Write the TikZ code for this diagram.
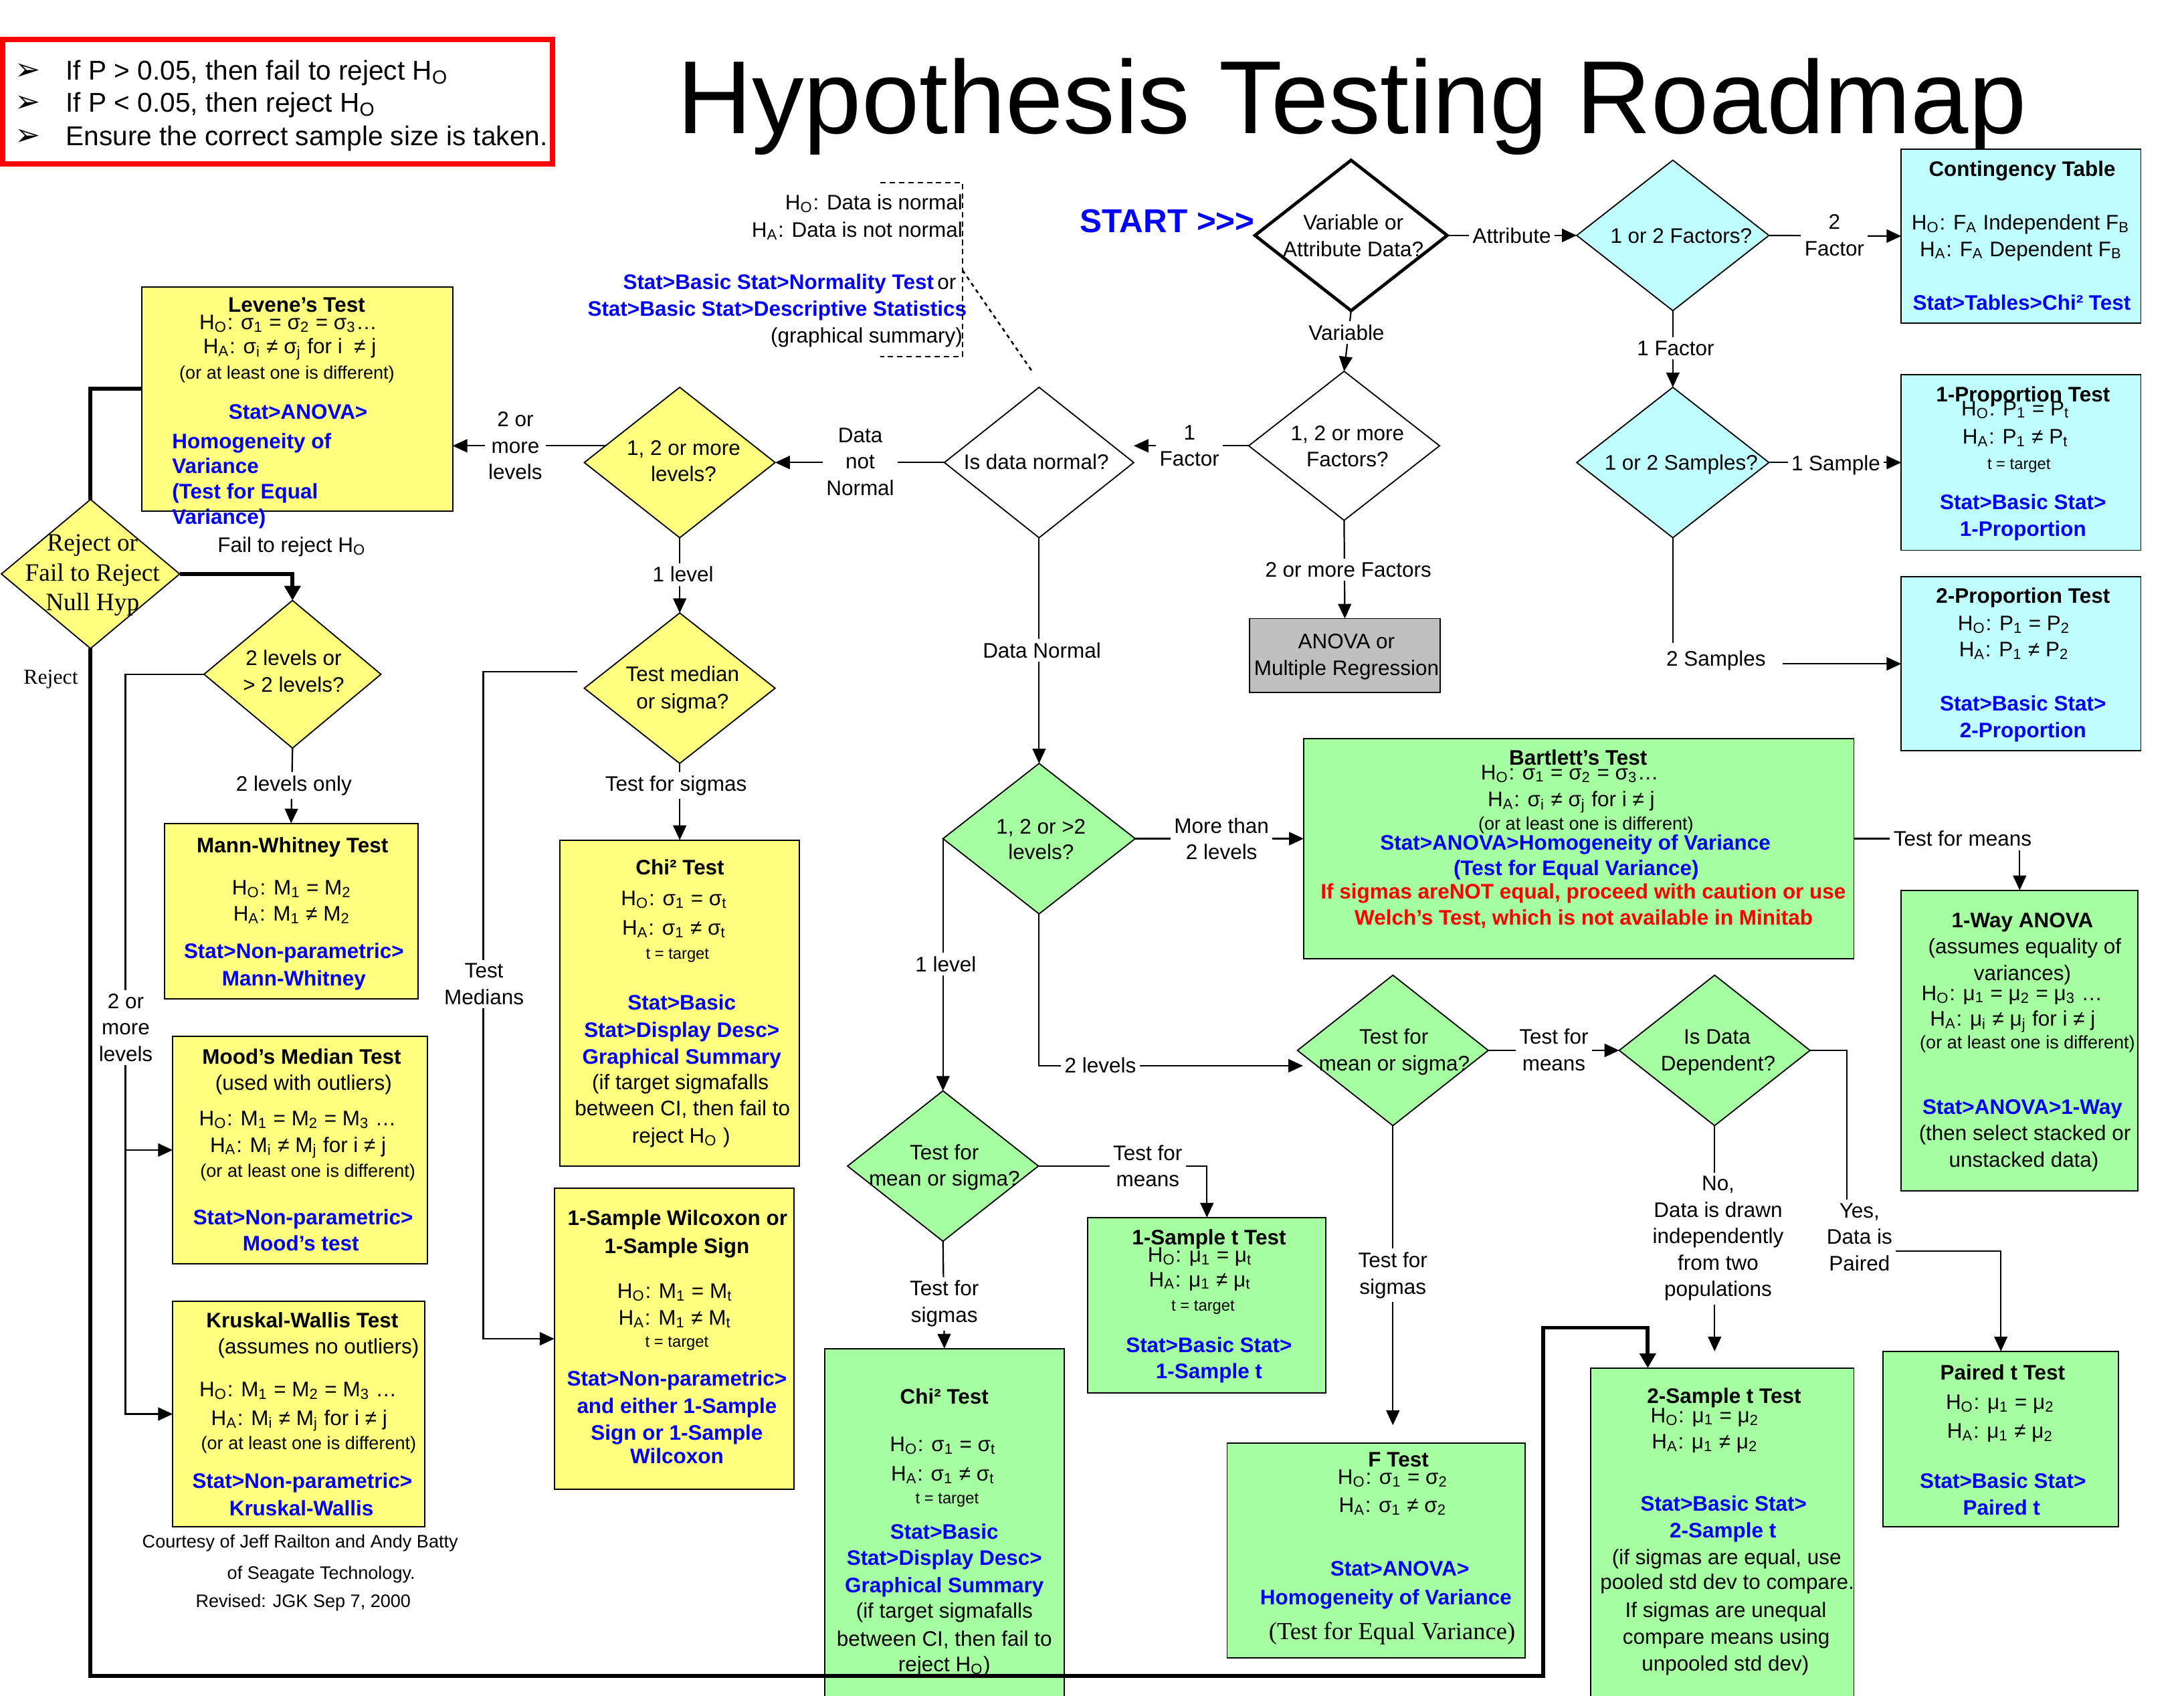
\documentclass[tikz,border=0pt]{standalone}
\usepackage{fontspec}
\setmainfont{Liberation Sans}
\newfontfamily\tnr{Liberation Serif}
\newfontfamily\djv{DejaVu Sans}
\usetikzlibrary{arrows.meta,shapes.geometric,calc}
\definecolor{cyellow}{HTML}{FFFF80}
\definecolor{ccyan}{HTML}{C0FFFF}
\definecolor{cgreen}{HTML}{A6FFA0}
\definecolor{cgray}{HTML}{C0C0C0}
\definecolor{sblue}{HTML}{0000FF}
\definecolor{sred}{HTML}{FF0000}
\newcommand\lsub[1]{\textsubscript{#1}}
\newcommand\blu{\color{sblue}\bfseries}
\newcommand\rdb{\color{sred}\bfseries}
\newcommand\smf{\fontsize{7.4}{9}\selectfont}
\newcommand\tif{\fontsize{6.5}{8}\selectfont}
\tikzset{
  tline/.style={anchor=base,inner sep=0pt,outer sep=0pt,font=\fontsize{8.6}{10.8}\selectfont},
  lbl/.style={fill=white,inner sep=1.5pt,align=center,font=\fontsize{8.6}{10.8}\selectfont},
  dia/.style={diamond,draw,line width=0.5pt,inner sep=0pt,outer sep=0pt},
  box/.style={rectangle,draw,line width=0.5pt,inner sep=0pt,outer sep=0pt},
  ln/.style={line width=0.6pt},
  arr/.style={ln,-{Triangle[length=6pt,width=5.4pt]}},
  thk/.style={line width=1.6pt},
  thkarr/.style={thk,-{Triangle[length=6pt,width=6.5pt]}},
}
\newcommand\txl[4][]{\node[tline,#1] (#2) at (#3) {#4};}
\newcommand\dnode[6][]{\node[dia,#1,minimum width={#5*0.02cm},minimum height={#6*0.02cm}] (#2) at (#3,#4) {};}
\newcommand\bnode[6][]{\node[box,#1,minimum width={(#5-#3)*0.02cm},minimum height={(#6-#4)*0.02cm}] (#2) at ({(#3+#5)/2},{(#4+#6)/2}) {};}
\begin{document}
\begin{tikzpicture}[x=0.02cm,y=-0.02cm]
\useasboundingbox (0,0) rectangle (1568,1217);
\fill[white] (0,0) rectangle (1568,1217);

% ---------- notes box and title ----------
\bnode[draw=sred,line width=2.2pt]{notes}{2}{28.3}{396.7}{117.8}
\txl[font=\djv\fontsize{12.5}{14}\selectfont]{bu1}{20,57.2}{➢}
\txl[font=\djv\fontsize{12.5}{14}\selectfont]{bu2}{20,80.4}{➢}
\txl[font=\djv\fontsize{12.5}{14}\selectfont]{bu3}{20,104.5}{➢}
\txl[anchor=base west,font=\fontsize{11.1}{13}\selectfont]{nt1}{47.4,57.2}{If P > 0.05, then fail to reject H\lsub{O}}
\txl[anchor=base west,font=\fontsize{11.1}{13}\selectfont]{nt2}{47.4,80.4}{If P < 0.05, then reject H\lsub{O}}
\txl[anchor=base west,font=\fontsize{11.1}{13}\selectfont]{nt3}{47.4,104.5}{Ensure the correct sample size is taken.}
\node[anchor=base,inner sep=0pt,font=\fontsize{42.4}{50}\selectfont] (title) at (970.6,95.6) {Hypothesis Testing Roadmap};
\node[anchor=base,inner sep=0pt,text=sblue,font=\bfseries\fontsize{13.5}{16}\selectfont] (start) at (838,167) {START >{}>{}>};

% ---------- diamonds ----------
\dnode[fill=white,line width=1.3pt]{var}{970}{169}{138}{108}
\dnode[fill=ccyan]{f12}{1201}{169}{138}{108}
\dnode[fill=ccyan]{s12}{1201}{332}{138}{108}
\dnode[fill=white]{fac}{965}{320}{137}{107}
\dnode[fill=white]{isn}{746}{332}{136}{108}
\dnode[fill=cyellow]{lvl}{488}{332}{137}{108}
\dnode[fill=cyellow]{tms}{488}{494}{137}{108}
\dnode[fill=cyellow]{rej}{65}{412}{128}{107}
\dnode[fill=cyellow]{lv2}{210}{484}{127}{106}
\dnode[fill=cgreen]{l3}{746}{602}{138}{108}
\dnode[fill=cgreen]{tmsl}{677}{837}{137}{108}
\dnode[fill=cgreen]{tmsr}{1000}{754}{137}{108}
\dnode[fill=cgreen]{dep}{1231}{754}{137}{108}

% ---------- boxes ----------
\bnode[fill=cyellow]{lev}{102}{206}{325}{367}
\bnode[fill=cyellow]{mw}{118}{591}{300}{717}
\bnode[fill=cyellow]{mood}{124}{744}{307}{907}
\bnode[fill=cyellow]{krus}{124}{934}{305}{1096}
\bnode[fill=cyellow]{chiy}{402}{603}{574}{837}
\bnode[fill=cyellow]{wil}{398}{853}{570}{1069}
\bnode[fill=cgray]{anova}{897}{444}{1034}{497}
\bnode[fill=ccyan]{cont}{1365}{107}{1537}{232}
\bnode[fill=ccyan]{p1}{1365}{269}{1537}{395}
\bnode[fill=ccyan]{p2}{1365}{414}{1537}{539}
\bnode[fill=cgreen]{bart}{936}{530}{1331}{688}
\bnode[fill=cgreen]{aov1}{1365}{639}{1535}{855}
\bnode[fill=cgreen]{t1}{781}{874}{952}{1000}
\bnode[fill=cgreen]{chig}{592}{968}{764}{1225}
\bnode[fill=cgreen]{ft}{881}{1036}{1095}{1190}
\bnode[fill=cgreen]{t2}{1142}{982}{1331}{1225}
\bnode[fill=cgreen]{pt}{1352}{970}{1521}{1096}

% ---------- diamond texts ----------
\txl{var1}{971.6,165}{Variable or}
\txl{var2}{971.6,184}{Attribute Data?}
\txl{f121}{1207,174.6}{1 or 2 Factors?}
\txl{s121}{1207,337.6}{1 or 2 Samples?}
\txl{fac1}{967.4,316}{1, 2 or more}
\txl{fac2}{967.4,335}{Factors?}
\txl{isn1}{744,336.9}{Is data normal?}
\txl{lvl1}{490.8,327}{1, 2 or more}
\txl{lvl2}{490.8,345.5}{levels?}
\txl{tms1}{490,489.3}{Test median}
\txl{tms2}{490,508.8}{or sigma?}
\txl[font=\tnr\fontsize{10.2}{12}\selectfont]{rej1}{66.4,395.7}{Reject or}
\txl[font=\tnr\fontsize{10.2}{12}\selectfont]{rej2}{66.4,417.2}{Fail to Reject}
\txl[font=\tnr\fontsize{10.2}{12}\selectfont]{rej3}{66.4,438}{Null Hyp}
\txl{lv21}{210.8,477.7}{2 levels or}
\txl{lv22}{210.8,496.6}{> 2 levels?}
\txl{l31}{747.4,598.5}{1, 2 or >2}
\txl{l32}{747.4,617}{levels?}
\txl{tmsl1}{678,832.3}{Test for}
\txl{tmsl2}{678,851}{mean or sigma?}
\txl{tmsr1}{1000.7,749.5}{Test for}
\txl{tmsr2}{1001,768.7}{mean or sigma?}
\txl{dep1}{1232.8,749.5}{Is Data}
\txl{dep2}{1233.5,768.7}{Dependent?}

% ---------- normality text ----------
\txl[anchor=base east]{nor1}{691,150.7}{H\lsub{O}: Data is normal}
\txl[anchor=base east]{nor2}{691,170.3}{H\lsub{A}: Data is not normal}
\txl[anchor=base east]{nor3}{686.4,207.8}{{\blu Stat>Basic Stat>Normality Test}\,or}
\txl[anchor=base east]{nor4}{694,227}{\blu Stat>Basic Stat>Descriptive Statistics}
\txl[anchor=base east]{nor5}{691,246.3}{(graphical summary)}
\coordinate (brk) at (691,194);
\draw[line width=0.6pt,dash pattern=on 2.2pt off 1.6pt] (632,131) -- (691,131) -- (691,256) -- (632,256);
\draw[line width=0.7pt,dash pattern=on 1.6pt off 1.6pt] (brk) -- ($(isn.north)+(-4,-10)$);

% ---------- Levene ----------
\txl{lev1}{213,224}{\bfseries Levene's Test}
\txl{lev2}{207,236.5}{H\lsub{O}: σ\lsub{1} = σ\lsub{2} = σ\lsub{3}…}
\txl{lev3}{208,254}{H\lsub{A}: σ\lsub{i} ≠ σ\lsub{j} for i \ ≠ j}
\txl{lev4}{206,272}{\smf (or at least one is different)}
\txl{lev5}{214,301}{\blu Stat>ANOVA>}
\txl[anchor=base west]{lev6}{123.6,322}{\blu Homogeneity of}
\txl[anchor=base west]{lev7}{123.6,340}{\blu Variance}
\txl[anchor=base west]{lev8}{123.6,358}{\blu (Test for Equal}
\txl[anchor=base west]{lev9}{123.6,376.5}{\blu Variance)}

% ---------- Mann-Whitney ----------
\txl{mw1}{210,612}{\bfseries Mann-Whitney Test}
\txl{mw2}{209.5,642.4}{H\lsub{O}: M\lsub{1} = M\lsub{2}}
\txl{mw3}{209.5,661}{H\lsub{A}: M\lsub{1} ≠ M\lsub{2}}
\txl{mw4}{211,688}{\blu Stat>Non-parametric>}
\txl{mw5}{211,707.7}{\blu Mann-Whitney}

% ---------- Mood ----------
\txl{mo1}{216.6,763.6}{\bfseries Mood's Median Test}
\txl{mo2}{218,782.5}{(used with outliers)}
\txl{mo3}{213.7,808}{H\lsub{O}: M\lsub{1} = M\lsub{2} = M\lsub{3} …}
\txl{mo4}{214,827}{H\lsub{A}: M\lsub{i} ≠ M\lsub{j} for i ≠ j}
\txl{mo5}{221,845}{\smf (or at least one is different)}
\txl{mo6}{217.6,879}{\blu Stat>Non-parametric>}
\txl{mo7}{216,898}{\blu Mood's test}

% ---------- Kruskal ----------
\txl{kr1}{217,953}{\bfseries Kruskal-Wallis Test}
\txl{kr2}{228.6,971.8}{(assumes no outliers)}
\txl{kr3}{214,1002.7}{H\lsub{O}: M\lsub{1} = M\lsub{2} = M\lsub{3} …}
\txl{kr4}{214.8,1023}{H\lsub{A}: M\lsub{i} ≠ M\lsub{j} for i ≠ j}
\txl{kr5}{221.6,1040.4}{\smf (or at least one is different)}
\txl{kr6}{217,1068.5}{\blu Stat>Non-parametric>}
\txl{kr7}{216.4,1087.8}{\blu Kruskal-Wallis}
\txl{cr1}{215.5,1111}{\smf Courtesy of Jeff Railton and Andy Batty}
\txl{cr2}{230.6,1133.4}{\smf of Seagate Technology.}
\txl{cr3}{217.7,1153.6}{\smf Revised: JGK Sep 7, 2000}

% ---------- Chi2 yellow ----------
\txl{cy1}{488.2,628}{\bfseries Chi² Test}
\txl{cy2}{484,650}{H\lsub{O}: σ\lsub{1} = σ\lsub{t}}
\txl{cy3}{484,671.3}{H\lsub{A}: σ\lsub{1} ≠ σ\lsub{t}}
\txl{cy4}{486.4,688.4}{\tif t = target}
\txl{cy5}{489.5,725}{\blu Stat>Basic}
\txl{cy6}{489.5,744.5}{\blu Stat>Display Desc>}
\txl{cy7}{489.5,764}{\blu Graphical Summary}
\txl{cy8}{488.5,782}{(if target sigmafalls}
\txl{cy9}{490,801}{between CI, then fail to}
\txl{cy10}{489,820.6}{reject H\lsub{O} )}

% ---------- Wilcoxon ----------
\txl{wi1}{486.4,879.5}{\bfseries 1-Sample Wilcoxon or}
\txl{wi2}{486,899.5}{\bfseries 1-Sample Sign}
\txl{wi3}{484.6,932}{H\lsub{O}: M\lsub{1} = M\lsub{t}}
\txl{wi4}{484.6,951.2}{H\lsub{A}: M\lsub{1} ≠ M\lsub{t}}
\txl{wi5}{486,967}{\tif t = target}
\txl{wi6}{486,994.6}{\blu Stat>Non-parametric>}
\txl{wi7}{486,1014.5}{\blu and either 1-Sample}
\txl{wi8}{486,1033.6}{\blu Sign or 1-Sample}
\txl{wi9}{486,1050.7}{\blu Wilcoxon}

% ---------- ANOVA gray ----------
\txl{an1}{966.7,465.6}{ANOVA or}
\txl{an2}{966.7,485}{Multiple Regression}

% ---------- cyan boxes ----------
\txl{co1}{1451.8,126.6}{\bfseries Contingency Table}
\txl{co2}{1450.8,165}{H\lsub{O}: F\lsub{A} Independent F\lsub{B}}
\txl{co3}{1451,184}{H\lsub{A}: F\lsub{A} Dependent F\lsub{B}}
\txl{co4}{1451.5,222.6}{\blu Stat>Tables>Chi² Test}
\txl{pa1}{1452.4,288.6}{\bfseries 1-Proportion Test}
\txl{pa2}{1447,298.3}{H\lsub{O}: P\lsub{1} = P\lsub{t}}
\txl{pa3}{1447,318.7}{H\lsub{A}: P\lsub{1} ≠ P\lsub{t}}
\txl{pa4}{1449.5,337}{\tif t = target}
\txl{pa5}{1452.4,365.9}{\blu Stat>Basic Stat>}
\txl{pa6}{1452.4,385}{\blu 1-Proportion}
\txl{pb1}{1452.4,433}{\bfseries 2-Proportion Test}
\txl{pb2}{1446,452.6}{H\lsub{O}: P\lsub{1} = P\lsub{2}}
\txl{pb3}{1446,471.5}{H\lsub{A}: P\lsub{1} ≠ P\lsub{2}}
\txl{pb4}{1452.4,510.2}{\blu Stat>Basic Stat>}
\txl{pb5}{1452.4,529.7}{\blu 2-Proportion}

% ---------- Bartlett ----------
\txl{ba1}{1133,549}{\bfseries Bartlett's Test}
\txl{ba2}{1127,559.5}{H\lsub{O}: σ\lsub{1} = σ\lsub{2} = σ\lsub{3}…}
\txl{ba3}{1128,579}{H\lsub{A}: σ\lsub{i} ≠ σ\lsub{j} for i ≠ j}
\txl{ba4}{1138.6,595.5}{\smf (or at least one is different)}
\txl{ba5}{1131,610}{\blu Stat>ANOVA>Homogeneity of Variance}
\txl{ba6}{1131.6,628.3}{\blu (Test for Equal Variance)}
\txl{ba7}{1136.7,645}{\rdb If sigmas areNOT equal, proceed with caution or use}
\txl{ba8}{1137,664}{\rdb Welch's Test, which is not available in Minitab}

% ---------- 1-Way ANOVA ----------
\txl{ow1}{1452,665.9}{\bfseries 1-Way ANOVA}
\txl{ow2}{1453.6,684.8}{(assumes equality of}
\txl{ow3}{1452,703.7}{variances)}
\txl{ow4}{1444.5,718}{H\lsub{O}: μ\lsub{1} = μ\lsub{2} = μ\lsub{3} …}
\txl{ow5}{1445,736.5}{H\lsub{A}: μ\lsub{i} ≠ μ\lsub{j} for i ≠ j}
\txl{ow6}{1455.6,752.8}{\smf (or at least one is different)}
\txl{ow7}{1452,800}{\blu Stat>ANOVA>1-Way}
\txl{ow8}{1453.7,818.8}{(then select stacked or}
\txl{ow9}{1453,837.8}{unstacked data)}

% ---------- 1-Sample t ----------
\txl{st1}{868,893.7}{\bfseries 1-Sample t Test}
\txl{st2}{861.5,906}{H\lsub{O}: μ\lsub{1} = μ\lsub{t}}
\txl{st3}{861.5,923.5}{H\lsub{A}: μ\lsub{1} ≠ μ\lsub{t}}
\txl{st4}{863.7,941}{\tif t = target}
\txl{st5}{868,971}{\blu Stat>Basic Stat>}
\txl{st6}{868,989.3}{\blu 1-Sample t}

% ---------- Chi2 green ----------
\txl{cg1}{678,1007.9}{\bfseries Chi² Test}
\txl{cg2}{677,1042}{H\lsub{O}: σ\lsub{1} = σ\lsub{t}}
\txl{cg3}{677,1063}{H\lsub{A}: σ\lsub{1} ≠ σ\lsub{t}}
\txl{cg4}{680,1079.5}{\tif t = target}
\txl{cg5}{678,1104.6}{\blu Stat>Basic}
\txl{cg6}{678,1123.3}{\blu Stat>Display Desc>}
\txl{cg7}{678,1143}{\blu Graphical Summary}
\txl{cg8}{678,1161.6}{(if target sigmafalls}
\txl{cg9}{678,1181.4}{between CI, then fail to}
\txl{cg10}{678,1200}{reject H\lsub{O})}

% ---------- F Test ----------
\txl{fa1}{1004,1053}{\bfseries F Test}
\txl{fa2}{1000,1065.6}{H\lsub{O}: σ\lsub{1} = σ\lsub{2}}
\txl{fa3}{1000,1085.5}{H\lsub{A}: σ\lsub{1} ≠ σ\lsub{2}}
\txl{fa4}{1005,1131.3}{\blu Stat>ANOVA>}
\txl{fa5}{995,1151.8}{\blu Homogeneity of Variance}
\txl[font=\tnr\fontsize{10}{12}\selectfont]{fa6}{999.4,1177}{(Test for Equal Variance)}

% ---------- 2-Sample t ----------
\txl{tt1}{1237.8,1007.4}{\bfseries 2-Sample t Test}
\txl{tt2}{1224,1021}{H\lsub{O}: μ\lsub{1} = μ\lsub{2}}
\txl{tt3}{1224,1040}{H\lsub{A}: μ\lsub{1} ≠ μ\lsub{2}}
\txl{tt4}{1237.5,1084.8}{\blu Stat>Basic Stat>}
\txl{tt5}{1237,1104}{\blu 2-Sample t}
\txl{tt6}{1239.6,1123}{(if sigmas are equal, use}
\txl{tt7}{1240,1141}{pooled std dev to compare.}
\txl{tt8}{1239,1161}{If sigmas are unequal}
\txl{tt9}{1239.3,1180.4}{compare means using}
\txl{tt10}{1238.7,1199.3}{unpooled std dev)}

% ---------- Paired t ----------
\txl{pd1}{1437.8,990.7}{\bfseries Paired t Test}
\txl{pd2}{1436,1011.7}{H\lsub{O}: μ\lsub{1} = μ\lsub{2}}
\txl{pd3}{1436,1032.5}{H\lsub{A}: μ\lsub{1} ≠ μ\lsub{2}}
\txl{pd4}{1438,1068.4}{\blu Stat>Basic Stat>}
\txl{pd5}{1437,1087.3}{\blu Paired t}

% ---------- connectors ----------
\draw[arr] (var.east) -- (f12.west);
\draw[arr] (f12.east) -- (cont.west);
\draw[arr] (f12.south) -- (s12.north);
\draw[arr] (s12.east) -- (p1.west);
\draw[arr] (s12.south) |- (p2.west);
\draw[arr] (var.south) -- (fac.north);
\draw[arr] (fac.west) -- (isn.east |- fac.west);
\draw[arr] (fac.south) -- (anova.north);
\draw[arr] (isn.west) -- (lvl.east);
\draw[arr] ($(lvl.west)+(15,-12)$) -- ($(lev.east |- lvl.west)+(0,-12)$);
\draw[arr] (lvl.south) -- (tms.north);
\draw[thk] ($(lev.west)+(0,-7.5)$) -| (rej.north);
\draw[thkarr] (rej.east) -| (lv2.north);
\draw[arr] (lv2.south) -- (mw.north);
\draw[arr] (lv2.west) -| ($(krus.west)+(-34,0)$) -- (krus.west);
\draw[arr] ($(mood.west)+(-34,0)$) -- (mood.west);
\draw[arr] ($(tms.west)+(-5,-12)$) -| ($(wil.west)+(-51,0)$) -- (wil.west);
\draw[arr] (tms.south) -- (chiy.north);
\draw[arr] (isn.south) -- (l3.north);
\draw[arr] (l3.east) -- (bart.west |- l3.east);
\draw[arr] (bart.east |- l3.east) -| (aov1.north);
\draw[arr] (l3.west) -- (tmsl.north);
\draw[arr] (l3.south) |- ($(tmsr.west)+(4,11)$);
\draw[arr] (tmsl.east) -| (t1.north);
\draw[arr] (tmsl.south) -- (chig.north);
\draw[arr] (tmsr.east) -- (dep.west);
\draw[arr] (tmsr.south) -- ($(tmsr.south |- ft.north)+(0,-13)$);
\draw[arr] (dep.south) -- ($(dep.south |- t2.north)+(0,-12)$);
\coordinate (yc) at (1326,898);
\draw[arr] (dep.east) -| (yc) -| (pt.north);
\coordinate (rc2) at (1108,1203);
\coordinate (rc3) at (1108,953);
\draw[thkarr] (rej.south) |- (rc2) -- (rc3) -| ($(t2.north west)+(41,0)$);

% ---------- connector labels ----------
\node[lbl] (lAttr) at (1085.4,169.4) {Attribute};
\node[lbl] (l2F) at (1317,169) {2\\Factor};
\node[lbl] (l1F) at (1203,250) {1 Factor};
\node[lbl] (l1S) at (1318,334) {1 Sample};
\node[lbl,inner xsep=7pt,inner ysep=3pt] (l2S) at (1232,474) {2 Samples};
\node[lbl] (lVar) at (966.7,238.7) {Variable};
\node[lbl] (lFac) at (854,320) {1\\Factor};
\node[lbl] (l2mF) at (968,409) {2 or more Factors};
\node[lbl] (lDnn) at (617.6,331.4) {Data\\not\\Normal};
\node[lbl] (l2ml) at (370,320) {2 or\\more\\levels};
\node[lbl] (l1l) at (490.4,412.4) {1 level};
\node[lbl,fill=none] (lF2r) at (209.5,392.5) {Fail to reject H\lsub{O}};
\node[lbl,fill=none,font=\tnr\fontsize{8.7}{10}\selectfont] (lRej) at (36.5,487.4) {Reject};
\node[lbl] (l2lo) at (211,563.8) {2 levels only};
\node[lbl] (l2ml2) at (90.3,737.6) {2 or\\more\\levels};
\node[lbl] (lTM) at (347.5,706.3) {Test\\Medians};
\node[lbl] (lTfs) at (485.3,563.8) {Test for sigmas};
\node[lbl] (lDN) at (748,466.8) {Data Normal};
\node[lbl] (lMt2) at (877,602) {More than\\2 levels};
\node[lbl] (lTfm) at (1409,602) {Test for means};
\node[lbl] (l1lv) at (679,692) {1 level};
\node[lbl] (l2lv) at (790,764.5) {2 levels};
\node[lbl] (lTfm2) at (824,837) {Test for\\means};
\node[lbl] (lTfs2) at (678,935.8) {Test for\\sigmas};
\node[lbl] (lTfm3) at (1115.6,753.5) {Test for\\means};
\node[lbl] (lTfs3) at (1000,915.5) {Test for\\sigmas};
\node[lbl] (lNo) at (1233.5,889) {No,\\Data is drawn\\independently\\from two\\populations};
\node[lbl] (lYes) at (1335,888) {Yes,\\Data is\\Paired};
\end{tikzpicture}
\end{document}
